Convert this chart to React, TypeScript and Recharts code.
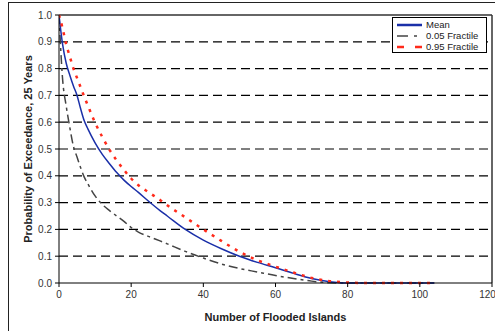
import React from "react";
import {
  LineChart,
  Line,
  XAxis,
  YAxis,
  CartesianGrid,
  ReferenceLine,
  Label,
} from "recharts";

// number of flooded islands
const islands = [
  0, 1, 2, 3, 4, 5, 6, 7, 8, 10, 12, 14, 16, 18, 20, 22, 25, 28, 30, 35, 40, 45,
  50, 55, 60, 65, 70, 75, 80, 85, 90, 95, 100, 104,
];

// probability of exceedance, 25 years
const meanValues = [
  1.0, 0.89, 0.82, 0.775, 0.735, 0.7, 0.65, 0.605, 0.575, 0.523, 0.48, 0.445,
  0.412, 0.384, 0.36, 0.338, 0.303, 0.27, 0.25, 0.2, 0.16, 0.128, 0.1,
  0.077, 0.057, 0.036, 0.017, 0.005, 0.0, 0, 0, 0, 0, 0,
];
const fractile05 = [
  1.0, 0.76, 0.66, 0.58, 0.51, 0.47, 0.43, 0.395, 0.37, 0.325, 0.293, 0.27,
  0.25, 0.23, 0.207, 0.19, 0.173, 0.157, 0.146, 0.118, 0.093, 0.071, 0.054,
  0.041, 0.028, 0.017, 0.007, 0.001, 0, 0, 0, 0, 0, 0,
];
const fractile95 = [
  1.0, 0.95, 0.89, 0.845, 0.8, 0.765, 0.73, 0.695, 0.662, 0.598, 0.545, 0.497,
  0.457, 0.422, 0.39, 0.365, 0.337, 0.31, 0.29, 0.245, 0.2, 0.157, 0.117,
  0.085, 0.061, 0.039, 0.019, 0.007, 0.002, 0, 0, 0, 0, 0,
];

const xTicks = [0, 20, 40, 60, 80, 100, 120];
const yTicks = [0, 0.1, 0.2, 0.3, 0.4, 0.5, 0.6, 0.7, 0.8, 0.9, 1.0];
const gridLevels = [0.1, 0.2, 0.3, 0.4, 0.5, 0.6, 0.7, 0.8, 0.9];

const data = islands.map((x, i) => ({
  x,
  mean: meanValues[i],
  low: fractile05[i],
  high: fractile95[i],
}));

const FONT = "'Liberation Sans', Arial, sans-serif";

function ChartLegend() {
  const rows = [
    { label: "Mean", color: "#1a2fa8", dash: undefined, width: 2.5 },
    { label: "0.05 Fractile", color: "#444", dash: "11 6 3 20", width: 1.5 },
    { label: "0.95 Fractile", color: "#ff2a1a", dash: "7 11", width: 2.5 },
  ];
  return (
    <div
      style={{
        position: "absolute",
        left: 392,
        top: 17,
        border: "1px solid #000",
        background: "#fff",
        width: 95,
        height: 36,
        padding: "1px 0 0 4px",
        boxSizing: "border-box",
        fontFamily: FONT,
        fontSize: 9.5,
        color: "#222",
      }}
    >
      {rows.map((r) => (
        <div
          key={r.label}
          style={{ display: "flex", alignItems: "center", height: 11 }}
        >
          <svg width={27} height={8}>
            <line
              x1={0}
              y1={4}
              x2={25}
              y2={4}
              stroke={r.color}
              strokeWidth={r.width}
              strokeDasharray={r.dash}
            />
          </svg>
          <span style={{ marginLeft: 2 }}>{r.label}</span>
        </div>
      ))}
    </div>
  );
}

export default function App() {
  return (
    <div style={{ position: "absolute", left: 0, top: 0, width: 495, height: 331 }}>
      <div
        style={{
          position: "absolute",
          left: 8,
          top: 2,
          width: 500,
          height: 340,
          border: "1.5px solid #222",
          boxSizing: "border-box",
        }}
      />
      <div style={{ position: "absolute", left: 0, top: 0 }}>
        <LineChart
          width={495}
          height={331}
          data={data}
          margin={{ top: 15, right: 3, bottom: 18, left: 0 }}
        >
          <CartesianGrid
            horizontal
            vertical={false}
            stroke="#000"
            strokeWidth={1.2}
            strokeDasharray="9 5"
            horizontalValues={gridLevels}
          />
          <XAxis
            dataKey="x"
            type="number"
            domain={[0, 120]}
            ticks={xTicks}
            height={30}
            stroke="#000"
            tickSize={4}
            tickMargin={4}
            tick={{ fill: "#333", fontSize: 10, fontFamily: FONT }}
            allowDataOverflow
          >
            <Label
              value="Number of Flooded Islands"
              position="insideBottom"
              offset={-8}
              style={{
                fill: "#222",
                fontSize: 11,
                fontWeight: "bold",
                fontFamily: FONT,
              }}
            />
          </XAxis>
          <YAxis
            type="number"
            domain={[0, 1]}
            ticks={yTicks}
            width={59}
            stroke="#000"
            tickSize={4}
            tickMargin={3}
            tickFormatter={(v: number) => v.toFixed(1)}
            tick={{ fill: "#333", fontSize: 10, fontFamily: FONT }}
          >
            <Label
              value="Probability of Exceedance, 25 Years"
              angle={-90}
              position="insideLeft"
              offset={28}
              style={{
                fill: "#222",
                fontSize: 11,
                fontWeight: "bold",
                fontFamily: FONT,
                textAnchor: "middle",
              }}
            />
          </YAxis>
          <ReferenceLine y={1} stroke="#333" strokeWidth={1.5} />
          <ReferenceLine x={120} stroke="#333" strokeWidth={1.5} />
          <Line
            type="monotone"
            dataKey="low"
            name="0.05 Fractile"
            stroke="#444"
            strokeWidth={1.5}
            strokeDasharray="9 4 3 4"
            dot={false}
            isAnimationActive={false}
          />
          <Line
            type="monotone"
            dataKey="mean"
            name="Mean"
            stroke="#1a2fa8"
            strokeWidth={1.5}
            dot={false}
            isAnimationActive={false}
          />
          <Line
            type="monotone"
            dataKey="high"
            name="0.95 Fractile"
            stroke="#ff2a1a"
            strokeWidth={2.5}
            strokeDasharray="3 6"
            dot={false}
            isAnimationActive={false}
          />
        </LineChart>
      </div>
      <ChartLegend />
    </div>
  );
}
